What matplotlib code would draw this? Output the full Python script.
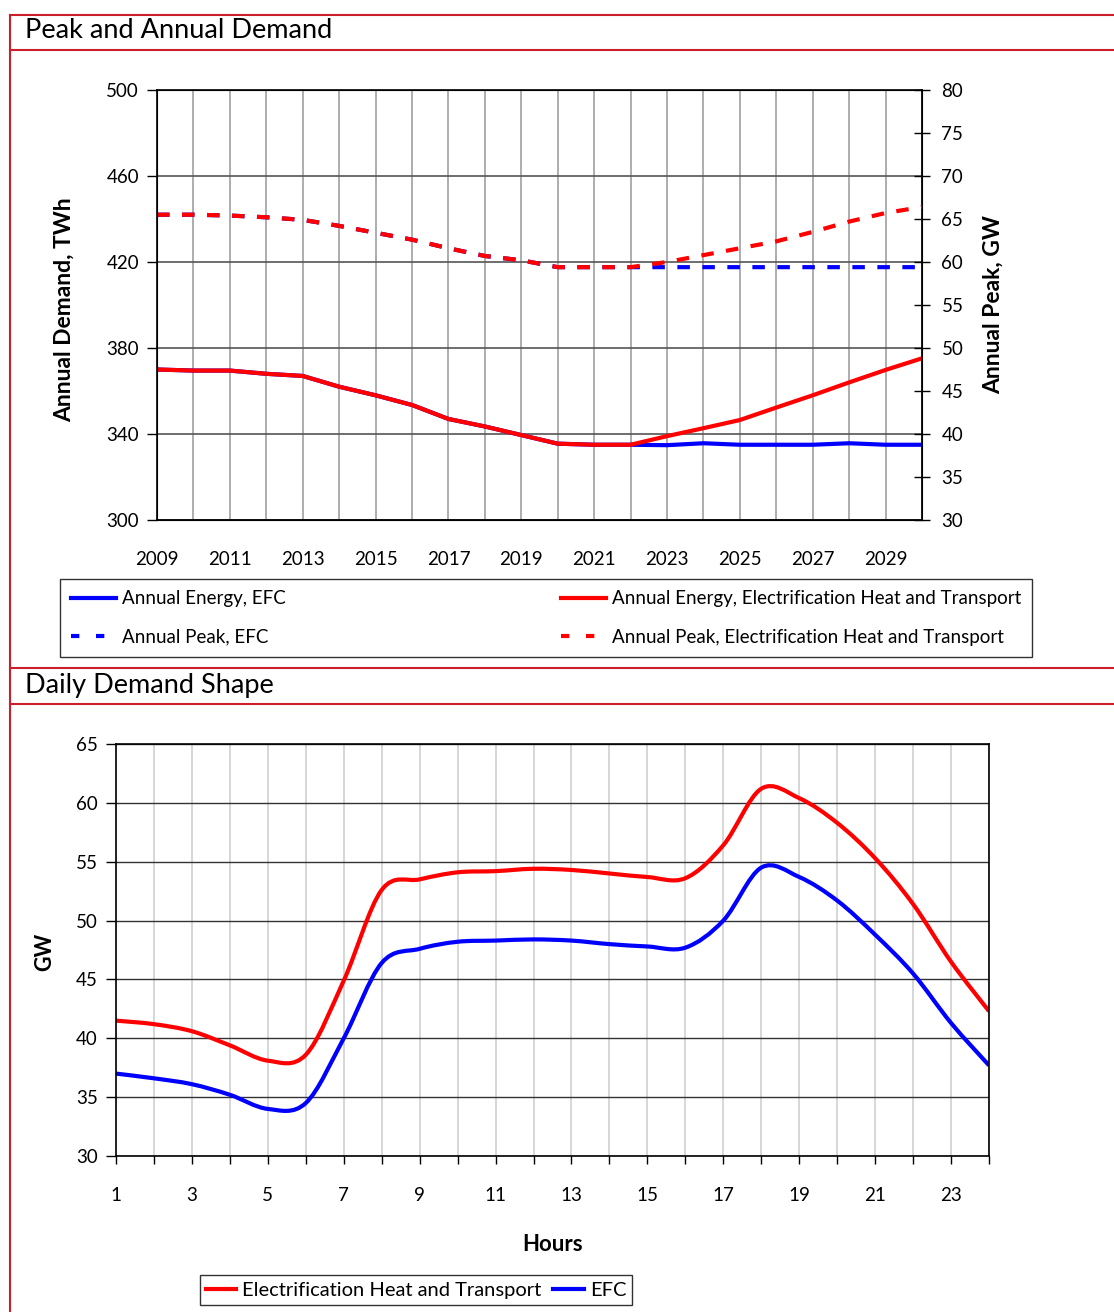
import numpy as np
import matplotlib
matplotlib.use('Agg')
import matplotlib.pyplot as plt
from matplotlib.lines import Line2D
from matplotlib.path import Path
from matplotlib.patches import PathPatch

plt.rcParams['font.family'] = ['Lato', 'DejaVu Sans']

# ---- data: peak and annual demand ----
years = list(range(2009, 2031))
energy_elec = [370, 369.5, 369.5, 368, 367, 362, 358, 353.5, 347, 343.5, 339.5, 335.5,
               335, 335, 339, 342.7, 346.5, 352.3, 358, 364, 369.8, 375.2]
energy_efc = [370, 369.5, 369.5, 368, 367, 362, 358, 353.5, 347, 343.5, 339.5, 335.5,
              335, 335, 334.8, 335.7, 335, 335, 335, 335.7, 335, 335]
peak_elec = [65.5, 65.5, 65.4, 65.2, 64.9, 64.2, 63.4, 62.6, 61.6, 60.7, 60.2, 59.4,
             59.4, 59.4, 60.0, 60.8, 61.6, 62.4, 63.5, 64.7, 65.7, 66.4]
peak_efc = [65.5, 65.5, 65.4, 65.2, 64.9, 64.2, 63.4, 62.6, 61.6, 60.7, 60.2, 59.4,
            59.4, 59.4, 59.4, 59.4, 59.4, 59.4, 59.4, 59.4, 59.4, 59.4]

# ---- data: daily demand shape ----
hours = list(range(1, 25))
daily_elec = [41.5, 41.2, 40.6, 39.4, 38.1, 38.6, 44.9, 52.6, 53.5, 54.1, 54.2, 54.4,
              54.3, 54.0, 53.7, 53.6, 56.4, 61.2, 60.4, 58.3, 55.3, 51.4, 46.5, 42.3]
daily_efc = [37.0, 36.6, 36.1, 35.2, 34.0, 34.5, 40.0, 46.4, 47.6, 48.2, 48.3, 48.4,
             48.3, 48.0, 47.8, 47.7, 50.0, 54.5, 53.7, 51.7, 48.8, 45.5, 41.3, 37.7]

RED = '#ff0000'
BLUE = '#0000ff'
FRAME = '#cc1f2b'
W, H = 1114, 1312


def fx(px):
    return px / W


def fy(py):
    return 1 - py / H


def smooth_path(x, y):
    # Excel style smoothed line: bezier segments through the points
    n = len(x)
    verts = [(x[0], y[0])]
    codes = [Path.MOVETO]
    for i in range(n - 1):
        a = i - 1 if i > 0 else i
        d = i + 2 if i + 2 < n else i + 1
        c1 = (x[i] + (x[i + 1] - x[a]) / 6, y[i] + (y[i + 1] - y[a]) / 6)
        c2 = (x[i + 1] - (x[d] - x[i]) / 6, y[i + 1] - (y[d] - y[i]) / 6)
        verts += [c1, c2, (x[i + 1], y[i + 1])]
        codes += [Path.CURVE4] * 3
    return Path(verts, codes)


fig = plt.figure(figsize=(W / 100, H / 100), dpi=100)

# red frame and header bands
for y in (15, 50, 668, 704):
    fig.add_artist(Line2D([fx(10), 1], [fy(y), fy(y)], color=FRAME, lw=1.5,
                          transform=fig.transFigure))
fig.add_artist(Line2D([fx(10), fx(10)], [fy(15), 0], color=FRAME, lw=1.5,
                      transform=fig.transFigure))
fig.text(fx(25), fy(31), 'Peak and Annual Demand', fontsize=19.5, va='center', ha='left')
fig.text(fx(25), fy(685), 'Daily Demand Shape', fontsize=19.5, va='center', ha='left')

# ---- top chart ----
ax = fig.add_axes([fx(157), fy(520), fx(922) - fx(157), fy(90) - fy(520)])
ax2 = ax.twinx()
ax.plot(years, energy_efc, color=BLUE, lw=3, solid_capstyle='butt')
ax.plot(years, energy_elec, color=RED, lw=3, solid_capstyle='butt')
ax2.plot(years, peak_efc, color=BLUE, lw=3, dashes=(3, 3), dash_capstyle='butt')
ax2.plot(years, peak_elec, color=RED, lw=3, dashes=(3, 3), dash_capstyle='butt')

ax.set_xlim(2009, 2030)
ax.set_ylim(300, 500)
ax2.set_ylim(30, 80)
ax.set_yticks(range(300, 501, 40))
ax2.set_yticks(range(30, 81, 5))
ax.set_xticks(years)
ax.set_xticklabels([str(y) if (y - 2009) % 2 == 0 else '' for y in years])
ax.grid(axis='x', color='#a0a0a0', lw=1.2)
ax.grid(axis='y', color='#555555', lw=1.2)
ax.set_axisbelow(True)
ax.tick_params(axis='x', length=0, pad=22, labelsize=13.5)
ax.tick_params(axis='y', length=7, width=1, pad=6, labelsize=13.5)
ax2.tick_params(axis='y', length=12, width=1, direction='inout', pad=8, labelsize=13.5)
for s in ax.spines.values():
    s.set_linewidth(1.2)
ax.set_ylabel('Annual Demand, TWh', fontsize=16.5, fontweight='bold')
ax.yaxis.set_label_coords(-0.108, 0.49)
ax2.set_ylabel('Annual Peak, GW', fontsize=16.5, fontweight='bold', rotation=90)
ax2.yaxis.set_label_coords(1.08, 0.5)

top_handles = [
    Line2D([], [], color=BLUE, lw=3),
    Line2D([], [], color=BLUE, lw=3, dashes=(2, 4)),
    Line2D([], [], color=RED, lw=3),
    Line2D([], [], color=RED, lw=3, dashes=(2, 4)),
]
top_labels = ['Annual Energy, EFC', 'Annual Peak, EFC',
              'Annual Energy, Electrification Heat and Transport',
              'Annual Peak, Electrification Heat and Transport']
leg = fig.legend(top_handles, top_labels, ncol=2, mode='expand',
                 loc='upper left',
                 bbox_to_anchor=(fx(60), fy(579), fx(1032) - fx(60), 0.0),
                 fontsize=13.5, handlelength=2.4, handletextpad=0.3,
                 labelspacing=1.15, borderpad=0.6, borderaxespad=0,
                 frameon=True, fancybox=False, edgecolor='black')
leg.get_frame().set_linewidth(1.0)

# ---- bottom chart ----
bx = fig.add_axes([fx(116), fy(1156), fx(989) - fx(116), fy(744) - fy(1156)])
bx.add_patch(PathPatch(smooth_path(hours, daily_efc), fill=False, edgecolor=BLUE,
                       lw=3, capstyle='butt'))
bx.add_patch(PathPatch(smooth_path(hours, daily_elec), fill=False, edgecolor=RED,
                       lw=3, capstyle='butt'))
bx.set_xlim(1, 24)
bx.set_ylim(30, 65)
bx.set_xticks(hours)
bx.set_xticklabels([str(h) if h % 2 == 1 else '' for h in hours])
bx.set_yticks(range(30, 66, 5))
bx.grid(axis='x', color='#d0d0d0', lw=1.2)
bx.grid(axis='y', color='#333333', lw=1.0)
bx.set_axisbelow(True)
bx.tick_params(axis='x', length=6, width=1, pad=16, labelsize=13.5)
bx.tick_params(axis='y', length=7, width=1, pad=6, labelsize=13.5)
for s in bx.spines.values():
    s.set_linewidth(1.2)
bx.set_xlabel('Hours', fontsize=16, fontweight='bold')
bx.xaxis.set_label_coords(0.5006, -0.19)
bx.set_ylabel('GW', fontsize=15.5, fontweight='bold')
bx.yaxis.set_label_coords(-0.07, 0.495)

bot_handles = [Line2D([], [], color=RED, lw=3), Line2D([], [], color=BLUE, lw=3)]
leg2 = fig.legend(bot_handles, ['Electrification Heat and Transport', 'EFC'], ncol=2,
                  loc='center', bbox_to_anchor=(fx(416), fy(1290)),
                  fontsize=14.5, handlelength=1.5, handletextpad=0.3, columnspacing=0.6,
                  borderpad=0.3, frameon=True, fancybox=False, edgecolor='black',
                  borderaxespad=0)
leg2.get_frame().set_linewidth(1.0)

fig.savefig('out.png', dpi=100)
